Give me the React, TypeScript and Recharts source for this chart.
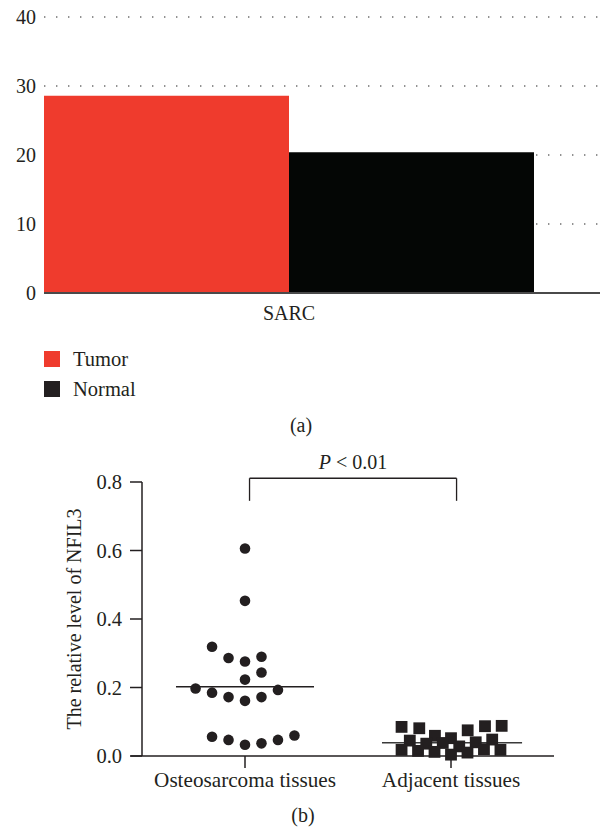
import React from 'react';
import {
  BarChart,
  Bar,
  XAxis,
  YAxis,
  CartesianGrid,
  ScatterChart,
  Scatter,
  ReferenceLine,
} from 'recharts';

const FONT = '"Liberation Serif", "Times New Roman", serif';
const TEXT = '#231f20';

// ---------- (a) bar chart data ----------
const barCategories = ['SARC'];
const tumorValues = [28.6];
const normalValues = [20.4];
const barYTicks = [0, 10, 20, 30, 40];
const barSeriesNames = ['Tumor', 'Normal'];
const barColors = ['#ef3b2d', '#040605'];
const legendColors = ['#ef3b2d', '#231f20'];

// ---------- (b) scatter data ----------
const groupCategories = ['Osteosarcoma tissues', 'Adjacent tissues'];
const osteoValues = [
  0.606, 0.453, 0.319, 0.286, 0.276, 0.29, 0.244, 0.223, 0.197, 0.185,
  0.172, 0.161, 0.172, 0.193, 0.056, 0.047, 0.033, 0.037, 0.047, 0.06,
];
const osteoJitter = [
  0, 0, -0.16, -0.08, 0, 0.08, 0.08, 0, -0.24, -0.16,
  -0.08, 0, 0.08, 0.16, -0.16, -0.08, 0, 0.08, 0.16, 0.24,
];
const adjacentValues = [
  0.085, 0.081, 0.059, 0.052, 0.075, 0.087, 0.088,
  0.045, 0.036, 0.038, 0.028, 0.04, 0.048,
  0.018, 0.015, 0.012, 0.004, 0.01, 0.02, 0.018,
];
const adjacentJitter = [
  -0.24, -0.154, -0.078, 0, 0.081, 0.165, 0.246,
  -0.2, -0.12, -0.04, 0.04, 0.12, 0.2,
  -0.24, -0.16, -0.08, 0, 0.08, 0.16, 0.24,
];
const groupMeans = [0.202, 0.039];
const meanSpanLeft = [-0.335, -0.335];
const meanSpanRight = [0.335, 0.345];
const scatterYTicks = [0, 0.2, 0.4, 0.6, 0.8];
const bracketX = [1.022, 2.027];
const bracketY = [0.745, 0.811];
const pText = ['P', ' < 0.01'];
const xAxisLineStart = 0.445;

const barData = barCategories.map((c, i) => ({
  name: c,
  Tumor: tumorValues[i],
  Normal: normalValues[i],
}));

const osteoData = osteoValues.map((v, i) => ({ x: 1 + osteoJitter[i], y: v }));
const adjacentData = adjacentValues.map((v, i) => ({ x: 2 + adjacentJitter[i], y: v }));

const Dot = (props: any) => {
  const { cx, cy } = props;
  if (cx == null || cy == null) return null;
  return <circle cx={cx} cy={cy} r={5.3} fill={TEXT} />;
};

const Square = (props: any) => {
  const { cx, cy } = props;
  if (cx == null || cy == null) return null;
  return <rect x={cx - 5.9} y={cy - 5.9} width={11.8} height={11.8} fill={TEXT} />;
};

const PLabel = (props: any) => {
  const vb = props.viewBox || {};
  const cx = (vb.x || 0) + (vb.width || 0) / 2;
  const y = (vb.y || 0) - 9;
  return (
    <text x={cx} y={y} textAnchor="middle" fill={TEXT} fontSize={20} fontFamily={FONT}>
      <tspan fontStyle="italic">{pText[0]}</tspan>
      <tspan>{pText[1]}</tspan>
    </text>
  );
};

const caption: React.CSSProperties = {
  position: 'absolute',
  width: 60,
  textAlign: 'center',
  fontFamily: FONT,
  fontSize: 20,
  lineHeight: '20px',
  color: TEXT,
};

export default function App() {
  return (
    <div
      style={{
        position: 'absolute',
        left: 0,
        top: 0,
        width: 602,
        height: 831,
        background: '#fff',
        overflow: 'hidden',
      }}
    >
      {/* (a) */}
      <div style={{ position: 'absolute', left: 0, top: 0 }}>
        <BarChart
          width={602}
          height={440}
          data={barData}
          margin={{ top: 17, right: 2, bottom: 107, left: 0 }}
          barGap={0}
          barCategoryGap={0}
        >
          <CartesianGrid
            horizontal
            vertical={false}
            stroke="#6d6d6d"
            strokeWidth={1.4}
            strokeDasharray="1.4 10.6"
          />
          <XAxis
            dataKey="name"
            height={40}
            padding={{ left: 0, right: 66 }}
            axisLine={{ stroke: '#4a4a4a', strokeWidth: 2 }}
            tickLine={false}
            tickSize={6}
            tickMargin={7}
            tick={{ fill: TEXT, fontSize: 20, fontFamily: FONT }}
          />
          <YAxis
            domain={[0, 40]}
            ticks={barYTicks}
            width={44}
            axisLine={false}
            tickLine={false}
            tick={{ fill: TEXT, fontSize: 20, fontFamily: FONT }}
          />
          {barSeriesNames.map((s, i) => (
            <Bar key={s} dataKey={s} fill={barColors[i]} isAnimationActive={false} />
          ))}
        </BarChart>
      </div>

      {/* legend */}
      {barSeriesNames.map((s, i) => (
        <div
          key={s}
          style={{
            position: 'absolute',
            left: 44,
            top: 349 + i * 30,
            height: 20,
            display: 'flex',
            alignItems: 'center',
            fontFamily: FONT,
            fontSize: 20.5,
            lineHeight: '20px',
            color: TEXT,
          }}
        >
          <span
            style={{
              display: 'inline-block',
              width: 16,
              height: 16,
              background: legendColors[i],
              marginRight: 13,
            }}
          />
          <span>{s}</span>
        </div>
      ))}

      <div style={{ ...caption, left: 271, top: 415 }}>(a)</div>

      {/* (b) */}
      <div style={{ position: 'absolute', left: 0, top: 440 }}>
        <ScatterChart
          width={602}
          height={391}
          margin={{ top: 42, right: 48, bottom: 15, left: 0 }}
        >
          <XAxis
            type="number"
            dataKey="x"
            domain={[0.5, 2.5]}
            ticks={[1, 2]}
            interval={0}
            allowDataOverflow
            height={60}
            axisLine={false}
            tickSize={12}
            tickMargin={4}
            tickLine={{ stroke: TEXT, strokeWidth: 1.5 }}
            tickFormatter={(v: number) => groupCategories[Math.round(v) - 1]}
            tick={{ fill: TEXT, fontSize: 21.2, fontFamily: FONT }}
          />
          <YAxis
            type="number"
            dataKey="y"
            domain={[0, 0.8]}
            ticks={scatterYTicks}
            interval={0}
            width={142}
            tickSize={12}
            tickMargin={8}
            axisLine={{ stroke: TEXT, strokeWidth: 1.5 }}
            tickLine={{ stroke: TEXT, strokeWidth: 1.5 }}
            tickFormatter={(v: number) => v.toFixed(1)}
            tick={{ fill: TEXT, fontSize: 20.5, fontFamily: FONT }}
            label={{
              value: 'The relative level of NFIL3',
              angle: -90,
              position: 'insideLeft',
              offset: 74,
              style: { textAnchor: 'middle' },
              fill: TEXT,
              fontSize: 20,
              fontFamily: FONT,
            }}
          />
          <ReferenceLine
            segment={[
              { x: xAxisLineStart, y: 0 },
              { x: 2.5, y: 0 },
            ]}
            stroke={TEXT}
            strokeWidth={1.5}
            ifOverflow="visible"
          />
          {groupMeans.map((m, i) => (
            <ReferenceLine
              key={'mean' + i}
              segment={[
                { x: i + 1 + meanSpanLeft[i], y: m },
                { x: i + 1 + meanSpanRight[i], y: m },
              ]}
              stroke={i === 0 ? TEXT : '#3a3a3a'}
              strokeWidth={1.5}
              ifOverflow="visible"
            />
          ))}
          <ReferenceLine
            segment={[
              { x: bracketX[0], y: bracketY[0] },
              { x: bracketX[0], y: bracketY[1] },
            ]}
            stroke={TEXT}
            strokeWidth={1.3}
            ifOverflow="visible"
          />
          <ReferenceLine
            segment={[
              { x: bracketX[1], y: bracketY[0] },
              { x: bracketX[1], y: bracketY[1] },
            ]}
            stroke={TEXT}
            strokeWidth={1.3}
            ifOverflow="visible"
          />
          <ReferenceLine
            segment={[
              { x: bracketX[0], y: bracketY[1] },
              { x: bracketX[1], y: bracketY[1] },
            ]}
            stroke={TEXT}
            strokeWidth={1.3}
            ifOverflow="visible"
            label={PLabel}
          />
          <Scatter
            name={groupCategories[0]}
            data={osteoData}
            shape={Dot}
            isAnimationActive={false}
          />
          <Scatter
            name={groupCategories[1]}
            data={adjacentData}
            shape={Square}
            isAnimationActive={false}
          />
        </ScatterChart>
      </div>

      <div style={{ ...caption, left: 273, top: 805 }}>(b)</div>
    </div>
  );
}
